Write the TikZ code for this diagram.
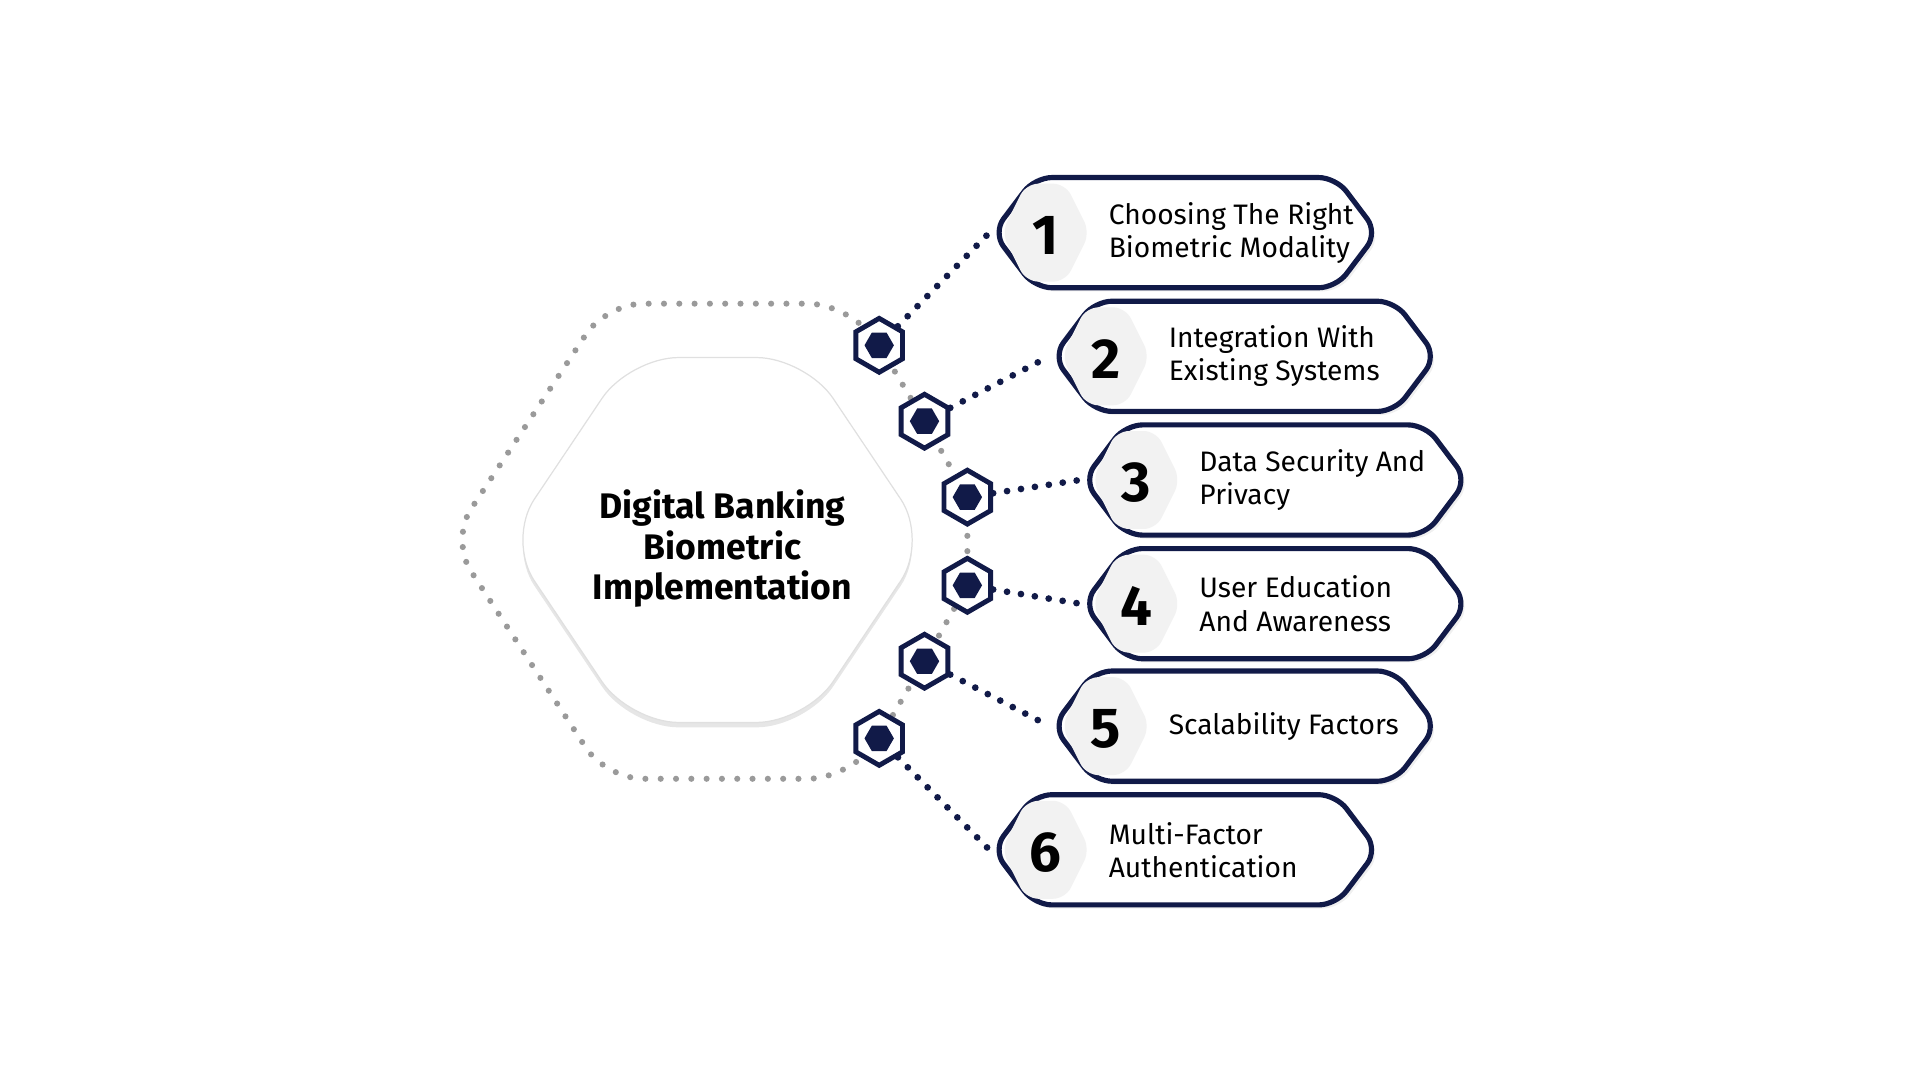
\documentclass[tikz,border=0pt]{standalone}
\usepackage{fontspec}
\setmainfont{Fira Sans}
\usetikzlibrary{shapes.geometric,shadows,calc}
\definecolor{navy}{HTML}{111A48}
\definecolor{dotgray}{HTML}{9A9A9A}
\definecolor{numfill}{HTML}{F2F2F2}
\newcommand\hexp[5]{({#1-#3},{#2}) -- ({#1-#3+#5},{#2-#4}) -- ({#1+#3-#5},{#2-#4}) -- ({#1+#3},{#2}) -- ({#1+#3-#5},{#2+#4}) -- ({#1-#3+#5},{#2+#4}) -- cycle}
\tikzset{
 itembox/.style={draw=navy,line width=4.2pt,fill=white,rounded corners=14pt,drop shadow={opacity=0.12,shadow xshift=3pt,shadow yshift=-3pt}},
 numhex/.style={fill=numfill,rounded corners=10pt},
 smallhex/.style={regular polygon,regular polygon sides=6,shape border rotate=30,draw=navy,line width=4pt,fill=white,minimum size=44pt,inner sep=0pt,
   path picture={\fill[navy] (path picture bounding box.center) ++(0:12pt) -- ++(120:12pt) -- ++(180:12pt) -- ++(240:12pt) -- ++(300:12pt) -- ++(0:12pt) -- cycle;}},
 navydots/.style={navy,line width=5.5pt,line cap=round,dash pattern=on 0pt off 11.5pt},
 graydots/.style={dotgray,line width=5pt,line cap=round,dash pattern=on 0pt off 12.5pt},
 itemtxt/.style={anchor=west,align=left,font=\fontsize{23}{27}\selectfont,text=black},
 numtxt/.style={font=\fontsize{46}{46}\selectfont\bfseries,text=black},
}
\begin{document}
\begin{tikzpicture}[x=1pt,y=-1pt]
\useasboundingbox (0,0) rectangle (1568,882);
% outer gray dotted hexagon
\draw[graydots,rounded corners=30pt] (718,282) -- (690,248) -- (495,248) -- (368,441) -- (495,636) -- (690,636) -- (718,603);
\draw[graydots] (718,282) -- (755,344) -- (790,406) -- (790,478) -- (755,540) -- (718,603);
% center hexagon
\fill[white,rounded corners=40pt,drop shadow={opacity=0.2,shadow xshift=0pt,shadow yshift=-4pt}] \hexp{586}{441}{172}{149}{100};
\draw[black!12,line width=1pt,rounded corners=40pt] \hexp{586}{441}{172}{149}{100};
\node (center) at (590,448) [align=center,font=\fontsize{29}{33}\selectfont\bfseries] {Digital Banking\\Biometric\\Implementation};
% small hexes
\node[smallhex] (h1) at (718,282) {};
\node[smallhex] (h2) at (755,344) {};
\node[smallhex] (h3) at (790,406) {};
\node[smallhex] (h4) at (790,478) {};
\node[smallhex] (h5) at (755,540) {};
\node[smallhex] (h6) at (718,603) {};
% boxes
\foreach \i/\l/\r/\c/\t in {1/808/1122/190/{Choosing The Right\\Biometric Modality},
  2/857/1170/291/{Integration With\\Existing Systems},
  3/882/1195/392/{Data Security And\\Privacy},
  4/882/1195/493/{User Education\\And Awareness},
  5/857/1170/593/{Scalability Factors},
  6/808/1122/694/{Multi-Factor\\Authentication}}{
  \path[itembox] \hexp{(\l+\r)/2}{\c}{(\r-\l)/2+3}{45}{34};
  \fill[numhex] \hexp{\l+46}{\c}{36}{40}{20};
  \node[numtxt] (n\i) at (\l+46,\c+2) {\i};
  \node[itemtxt] (t\i) at (\l+94,\c) {\t};
  \coordinate (b\i) at (\l,\c);
}
\draw[navydots] (h1) -- (b1);
\draw[navydots] (h2) -- (b2);
\draw[navydots] (h3) -- (b3);
\draw[navydots] (h4) -- (b4);
\draw[navydots] (h5) -- (b5);
\draw[navydots] (h6) -- (b6);
\end{tikzpicture}
\end{document}
